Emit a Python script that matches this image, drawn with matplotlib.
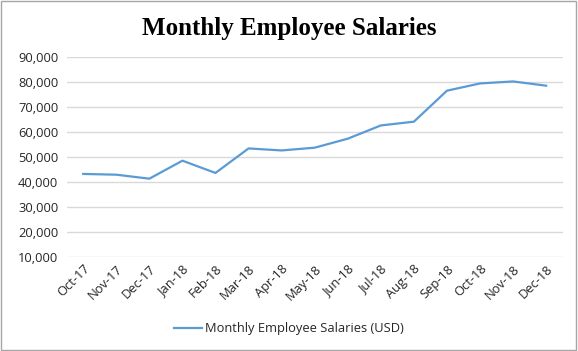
import matplotlib.pyplot as plt
import matplotlib.ticker as mtick
from matplotlib.patches import Rectangle

months = ['Oct-17', 'Nov-17', 'Dec-17', 'Jan-18', 'Feb-18', 'Mar-18', 'Apr-18', 'May-18',
          'Jun-18', 'Jul-18', 'Aug-18', 'Sep-18', 'Oct-18', 'Nov-18', 'Dec-18']
salaries = [43100, 42800, 41200, 48400, 43500, 53300, 52500, 53600,
            57200, 62500, 64000, 76400, 79300, 80100, 78400]

line_col = '#5b9bd5'
grid_col = '#d9d9d9'
txt_col = '#262626'

fig = plt.figure(figsize=(5.78, 3.51), dpi=100)
ax = fig.add_axes([0.1154, 0.2687, 0.8581, 0.5698])

x = range(len(months))
ax.plot(x, salaries, color=line_col, lw=1.6, label='Monthly Employee Salaries (USD)')

ax.set_xlim(-0.5, len(months) - 0.5)
ax.set_ylim(10000, 90000)
ax.set_yticks(range(10000, 90001, 10000))
ax.yaxis.set_major_formatter(mtick.StrMethodFormatter('{x:,.0f}'))
ax.set_xticks(list(x))
ax.set_xticklabels(months, rotation=45, ha='right', rotation_mode='anchor')
ax.tick_params(length=0, labelsize=9.3, colors=txt_col, pad=6)
ax.tick_params(axis='x', pad=4)
for lab in ax.get_xticklabels() + ax.get_yticklabels():
    lab.set_fontfamily('Open Sans')
ax.grid(axis='y', color=grid_col, lw=1)
ax.set_axisbelow(True)
for s in ax.spines.values():
    s.set_visible(False)

fig.text(0.5, 0.918, 'Monthly Employee Salaries', ha='center', va='center',
         fontsize=18, fontweight='bold', family='Liberation Serif')

leg = fig.legend(loc='center', bbox_to_anchor=(0.5, 0.064), frameon=False,
                 prop={'family': 'Open Sans', 'size': 9.3}, handlelength=2.2, handletextpad=0.2)
for t in leg.get_texts():
    t.set_color(txt_col)

fig.patches.append(Rectangle((0.002, 0.003), 0.995, 0.994, transform=fig.transFigure,
                             fill=False, edgecolor='#a6a6a6', lw=1))

plt.savefig('out.png', dpi=100)
